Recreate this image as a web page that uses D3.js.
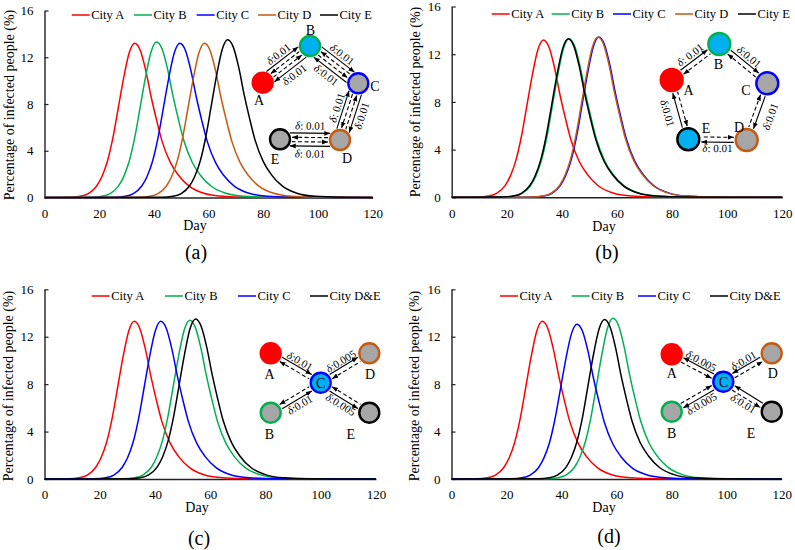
<!DOCTYPE html>
<html><head><meta charset="utf-8">
<script src="https://cdn.jsdelivr.net/npm/d3@7"></script>
<style>
body{margin:0;background:#fff}
text{font-family:"Liberation Serif","Times New Roman","DejaVu Serif",serif;fill:#000}
</style>
</head><body>
<svg id="c" width="795" height="550"></svg>
<script>
// ---------- DATA ----------
const xTicks = [0, 20, 40, 60, 80, 100, 120];
const yTicks = [0, 4, 8, 12, 16];
const legend5 = ["City A", "City B", "City C", "City D", "City E"];
const legend4 = ["City A", "City B", "City C", "City D&E"];
const tagLabels = ["(a)", "(b)", "(c)", "(d)"];

// panel (a)
const a_A_day = [0,9,13,16,19,21,23,25,27,29,31,33,35,37,39,41,43,46,49,53,58,65,75,120];
const a_A_pct = [0,.02,.1,.33,.96,1.8,3.1,5.1,7.7,10.3,12.4,13.2,12.6,10.9,8.6,6.6,4.8,3.0,1.9,.95,.38,.1,.02,0];
const a_B_day = [0,17,21,24,27,29,31,33,35,37,39,41,43,45,47,49,51,54,57,61,66,73,83,120];
const a_B_pct = [0,.02,.1,.33,.97,1.81,3.12,5.14,7.76,10.38,12.49,13.3,12.7,10.98,8.67,6.65,4.84,3.02,1.91,.96,.38,.1,.02,0];
const a_C_day = [0,25.5,29.5,32.5,35.5,37.5,39.5,41.5,43.5,45.5,47.5,49.5,51.5,53.5,55.5,57.5,59.5,62.5,65.5,69.5,74.5,81.5,91.5,120];
const a_C_pct = [0,.02,.1,.33,.96,1.8,3.1,5.1,7.7,10.3,12.4,13.2,12.6,10.9,8.6,6.6,4.8,3.0,1.9,.95,.38,.1,.02,0];
const a_D_day = [0,34.5,38.5,41.5,44.5,46.5,48.5,50.5,52.5,54.5,56.5,58.5,60.5,62.5,64.5,66.5,68.5,71.5,74.5,78.5,83.5,90.5,100.5,120];
const a_D_pct = [0,.02,.1,.33,.96,1.8,3.1,5.1,7.7,10.3,12.4,13.2,12.6,10.9,8.6,6.6,4.8,3.0,1.9,.95,.38,.1,.02,0];
const a_E_day = [0,43,47,50,53,55,57,59,61,63,65,67,69,71,73,75,77,80,83,87,92,99,109,120];
const a_E_pct = [0,.02,.1,.34,.98,1.84,3.17,5.22,7.88,10.54,12.69,13.5,12.89,11.15,8.8,6.75,4.91,3.07,1.94,.97,.39,.1,.02,0];

// panel (b)
const b_A_day = [0,9.3,13.3,16.3,19.3,21.3,23.3,25.3,27.3,29.3,31.3,33.3,35.3,37.3,39.3,41.3,43.3,46.3,49.3,53.3,58.3,65.3,75.3,120];
const b_A_pct = [0,.02,.1,.33,.96,1.8,3.1,5.1,7.7,10.3,12.4,13.2,12.6,10.9,8.6,6.6,4.8,3.0,1.9,.95,.38,.1,.02,0];
const b_B_day = [0,18.6,22.6,25.6,28.6,30.6,32.6,34.6,36.6,38.6,40.6,42.6,44.6,46.6,48.6,50.6,52.6,55.6,58.6,62.6,67.6,74.6,84.6,120];
const b_B_pct = [0,.02,.1,.33,.97,1.81,3.12,5.14,7.76,10.38,12.49,13.3,12.7,10.98,8.67,6.65,4.84,3.02,1.91,.96,.38,.1,.02,0];
const b_C_day = [0,29.4,33.4,36.4,39.4,41.4,43.4,45.4,47.4,49.4,51.4,53.4,55.4,57.4,59.4,61.4,63.4,66.4,69.4,73.4,78.4,85.4,95.4,120];
const b_C_pct = [0,.02,.1,.34,.98,1.83,3.16,5.2,7.85,10.5,12.63,13.45,12.84,11.1,8.76,6.72,4.89,3.06,1.94,.97,.39,.1,.02,0];
const b_D_day = [0,29.1,33.1,36.1,39.1,41.1,43.1,45.1,47.1,49.1,51.1,53.1,55.1,57.1,59.1,61.1,63.1,66.1,69.1,73.1,78.1,85.1,95.1,120];
const b_D_pct = [0,.02,.1,.34,.98,1.83,3.16,5.2,7.85,10.5,12.63,13.45,12.84,11.1,8.76,6.72,4.89,3.06,1.94,.97,.39,.1,.02,0];
const b_E_day = [0,18.3,22.3,25.3,28.3,30.3,32.3,34.3,36.3,38.3,40.3,42.3,44.3,46.3,48.3,50.3,52.3,55.3,58.3,62.3,67.3,74.3,84.3,120];
const b_E_pct = [0,.02,.1,.33,.97,1.81,3.12,5.14,7.76,10.38,12.49,13.3,12.7,10.98,8.67,6.65,4.84,3.02,1.91,.96,.38,.1,.02,0];

// panel (c)
const c_A_day = [0,8.5,12.5,15.5,18.5,20.5,22.5,24.5,26.5,28.5,30.5,32.5,34.5,36.5,38.5,40.5,42.5,45.5,48.5,52.5,57.5,64.5,74.5,120];
const c_A_pct = [0,.02,.1,.33,.97,1.81,3.12,5.14,7.76,10.38,12.49,13.3,12.7,10.98,8.67,6.65,4.84,3.02,1.91,.96,.38,.1,.02,0];
const c_B_day = [0,28.6,32.6,35.6,38.6,40.6,42.6,44.6,46.6,48.6,50.6,52.6,54.6,56.6,58.6,60.6,62.6,65.6,68.6,72.6,77.6,84.6,94.6,120];
const c_B_pct = [0,.02,.1,.33,.97,1.83,3.15,5.18,7.82,10.45,12.59,13.4,12.79,11.06,8.73,6.7,4.87,3.05,1.93,.96,.39,.1,.02,0];
const c_C_day = [0,18.1,22.1,25.1,28.1,30.1,32.1,34.1,36.1,38.1,40.1,42.1,44.1,46.1,48.1,50.1,52.1,55.1,58.1,62.1,67.1,74.1,84.1,120];
const c_C_pct = [0,.02,.1,.33,.97,1.81,3.12,5.14,7.76,10.38,12.49,13.3,12.7,10.98,8.67,6.65,4.84,3.02,1.91,.96,.38,.1,.02,0];
const c_DE_day = [0,30.7,34.7,37.7,40.7,42.7,44.7,46.7,48.7,50.7,52.7,54.7,56.7,58.7,60.7,62.7,64.7,67.7,70.7,74.7,79.7,86.7,96.7,120];
const c_DE_pct = [0,.02,.1,.34,.98,1.84,3.17,5.22,7.88,10.54,12.69,13.5,12.89,11.15,8.8,6.75,4.91,3.07,1.94,.97,.39,.1,.02,0];

// panel (d)
const d_A_day = [0,9,13,16,19,21,23,25,27,29,31,33,35,37,39,41,43,46,49,53,58,65,75,120];
const d_A_pct = [0,.02,.1,.33,.97,1.81,3.12,5.14,7.76,10.38,12.49,13.3,12.7,10.98,8.67,6.65,4.84,3.02,1.91,.96,.38,.1,.02,0];
const d_B_day = [0,34.7,38.7,41.7,44.7,46.7,48.7,50.7,52.7,54.7,56.7,58.7,60.7,62.7,64.7,66.7,68.7,71.7,74.7,78.7,83.7,90.7,100.7,120];
const d_B_pct = [0,.02,.1,.34,.99,1.85,3.18,5.24,7.9,10.57,12.73,13.55,12.94,11.19,8.83,6.78,4.93,3.08,1.95,.98,.39,.1,.02,0];
const d_C_day = [0,21.6,25.6,28.6,31.6,33.6,35.6,37.6,39.6,41.6,43.6,45.6,47.6,49.6,51.6,53.6,55.6,58.6,61.6,65.6,70.6,77.6,87.6,120];
const d_C_pct = [0,.02,.1,.33,.95,1.78,3.06,5.04,7.61,10.18,12.26,13.05,12.46,10.78,8.5,6.53,4.75,2.97,1.88,.94,.38,.1,.02,0];
const d_DE_day = [0,31.6,35.6,38.6,41.6,43.6,45.6,47.6,49.6,51.6,53.6,55.6,57.6,59.6,61.6,63.6,65.6,68.6,71.6,75.6,80.6,87.6,97.6,120];
const d_DE_pct = [0,.02,.1,.34,.98,1.83,3.16,5.2,7.85,10.5,12.63,13.45,12.84,11.1,8.76,6.72,4.89,3.06,1.94,.97,.39,.1,.02,0];

// ---------- STYLE / LAYOUT ----------
const RED="#ff0000", GREEN="#00b050", BLUE="#0000ff", ORANGE="#c55a11", BLACK="#000000";
const LBLUE="#00b0f0", GRAY="#a6a6a6";
const FONT="Liberation Serif, Times New Roman, DejaVu Serif, serif";
const col5=[RED,GREEN,BLUE,ORANGE,BLACK], col4=[RED,GREEN,BLUE,BLACK];
const zip=(a,b)=>a.map((d,i)=>[d,b[i]]);

const panels = [
 {xr:[44.5,372.7], yr:[197.5,10.5], series:[[a_A_day,a_A_pct],[a_B_day,a_B_pct],[a_C_day,a_C_pct],[a_D_day,a_D_pct],[a_E_day,a_E_pct]],
  names:legend5, colors:col5, legX:[71.7,134,196.7,258,320], legY:15, ytX:14, ytY:105, dayX:195, dayY:230, tagX:196, tagY:259},
 {xr:[451.7,782.3], yr:[197.3,6.5], series:[[b_A_day,b_A_pct],[b_B_day,b_B_pct],[b_C_day,b_C_pct],[b_D_day,b_D_pct],[b_E_day,b_E_pct]],
  names:legend5, colors:col5, legX:[491.7,551.7,613,675,738], legY:14, ytX:420, ytY:102, dayX:604, dayY:231, tagX:607, tagY:259},
 {xr:[44.5,376], yr:[479,289.3], series:[[c_A_day,c_A_pct],[c_B_day,c_B_pct],[c_C_day,c_C_pct],[c_DE_day,c_DE_pct]],
  names:legend4, colors:col4, legX:[91.7,165,238,310], legY:296, ytX:13, ytY:386, dayX:197, dayY:512, tagX:199, tagY:545},
 {xr:[451.5,781.7], yr:[479,289.3], series:[[d_A_day,d_A_pct],[d_B_day,d_B_pct],[d_C_day,d_C_pct],[d_DE_day,d_DE_pct]],
  names:legend4, colors:col4, legX:[500,571.7,638,710], legY:296, ytX:419, ytY:386, dayX:604, dayY:512, tagX:609, tagY:543}
];

const svg = d3.select("#c");
svg.append("defs").append("marker").attr("id","arr").attr("viewBox","0 -3 6 6")
  .attr("refX",6).attr("refY",0).attr("markerWidth",6).attr("markerHeight",6)
  .attr("markerUnits","userSpaceOnUse").attr("orient","auto-start-reverse")
  .append("path").attr("d","M0,-2.4L6,0L0,2.4Z").attr("fill","#000");

panels.forEach((P,pi)=>{
  const g = svg.append("g");
  const x = d3.scaleLinear().domain([0,120]).range(P.xr);
  const y = d3.scaleLinear().domain([0,16]).range(P.yr);
  const gx = g.append("g").attr("transform",`translate(0,${P.yr[0]})`)
    .call(d3.axisBottom(x).tickValues(xTicks).tickSize(0).tickPadding(11));
  const gy = g.append("g").attr("transform",`translate(${P.xr[0]},0)`)
    .call(d3.axisLeft(y).tickValues(yTicks).tickSizeInner(-4).tickSizeOuter(0).tickPadding(11));
  [gx,gy].forEach(a=>{
    a.attr("font-family",FONT);
    a.selectAll("path").attr("stroke","#222").attr("stroke-width",1.4);
    a.selectAll("line").attr("stroke","#222").attr("stroke-width",1.2);
    a.selectAll("text").attr("font-size",13).attr("font-family",FONT).attr("fill","#000");
  });
  const line = d3.line().x(d=>x(d[0])).y(d=>y(d[1])).curve(d3.curveMonotoneX);
  P.series.forEach((s,i)=>{
    g.append("path").attr("d",line(zip(s[0],s[1]))).attr("fill","none")
     .attr("stroke",P.colors[i]).attr("stroke-width",1.5);
  });
  // legend
  P.names.forEach((n,i)=>{
    const lx=P.legX[i];
    g.append("line").attr("x1",lx).attr("x2",lx+18).attr("y1",P.legY).attr("y2",P.legY)
      .attr("stroke",P.colors[i]).attr("stroke-width",1.5);
    g.append("text").attr("x",lx+19.5).attr("y",P.legY).attr("dy","0.35em").attr("font-size",12.5).text(n);
  });
  g.append("text").attr("transform",`translate(${P.ytX},${P.ytY}) rotate(-90)`)
    .attr("text-anchor","middle").attr("font-size",14).text("Percentage of infected people (%)");
  g.append("text").attr("x",P.dayX).attr("y",P.dayY).attr("text-anchor","middle").attr("font-size",14).text("Day");
  g.append("text").attr("x",P.tagX).attr("y",P.tagY).attr("text-anchor","middle").attr("font-size",20).text(tagLabels[pi]);
});

// ---------- NETWORK DIAGRAMS ----------
function net(nodes, edges, r){
  const g = svg.append("g");
  const N = {}; nodes.forEach(n=>N[n.id]=n);
  edges.forEach(e=>{
    const p=N[e.p], q=N[e.q];
    const dx=q.x-p.x, dy=q.y-p.y, L=Math.hypot(dx,dy), ux=dx/L, uy=dy/L, nx=-uy, ny=ux;
    e.lines.forEach(l=>{
      const s=Math.sqrt(Math.max(r*r-l.o*l.o,0))+2.2;
      const ln=g.append("line")
        .attr("x1",p.x+ux*s+nx*l.o).attr("y1",p.y+uy*s+ny*l.o)
        .attr("x2",q.x-ux*s+nx*l.o).attr("y2",q.y-uy*s+ny*l.o)
        .attr("stroke","#000").attr("stroke-width",1.1)
        .attr("stroke-dasharray",l.dash?"4,2.5":null);
      if(l.to==="q") ln.attr("marker-end","url(#arr)"); else ln.attr("marker-start","url(#arr)");
    });
    e.texts.forEach(t=>{
      let ang=Math.atan2(dy,dx)*180/Math.PI;
      if(ang>90) ang-=180; if(ang<=-90) ang+=180;
      const cx=(p.x+q.x)/2+nx*t.o, cy=(p.y+q.y)/2+ny*t.o;
      const tx=g.append("text").attr("transform",`translate(${cx},${cy}) rotate(${ang})`)
        .attr("text-anchor","middle").attr("dy","0.35em").attr("font-size",11);
      tx.append("tspan").attr("font-style","italic").text("δ");
      tx.append("tspan").text(t.s);
    });
  });
  nodes.forEach(n=>{
    g.append("circle").attr("cx",n.x).attr("cy",n.y).attr("r",r)
      .attr("fill",n.fill).attr("stroke",n.stroke).attr("stroke-width",2.4);
    g.append("text").attr("x",n.lx).attr("y",n.ly).attr("text-anchor","middle").attr("font-size",14).text(n.id);
  });
}

// (a) chain A-B-C-D-E
net([
 {id:"A",x:262.7,y:82.7,fill:RED,stroke:RED,lx:259,ly:105},
 {id:"B",x:310,y:46,fill:LBLUE,stroke:GREEN,lx:310.5,ly:35},
 {id:"C",x:358.3,y:83.3,fill:GRAY,stroke:BLUE,lx:375,ly:91},
 {id:"D",x:340,y:140,fill:GRAY,stroke:ORANGE,lx:347,ly:162.5},
 {id:"E",x:280,y:139.3,fill:GRAY,stroke:BLACK,lx:275,ly:164}
],[
 {p:"A",q:"B",lines:[{o:-6.5,to:"q"},{o:-2.2,dash:1,to:"p"},{o:2.2,dash:1,to:"q"},{o:6.5,to:"p"}],texts:[{o:-13,s:":0.01"},{o:13,s:":0.01"}]},
 {p:"B",q:"C",lines:[{o:-6.5,to:"q"},{o:-2.2,dash:1,to:"p"},{o:2.2,dash:1,to:"q"},{o:6.5,to:"p"}],texts:[{o:-13,s:":0.01"},{o:13,s:":0.01"}]},
 {p:"C",q:"D",lines:[{o:6.5,to:"p"},{o:2.2,dash:1,to:"q"},{o:-2.2,dash:1,to:"p"},{o:-6.5,to:"q"}],texts:[{o:-13,s:":0.01"},{o:13,s:": 0.01"}]},
 {p:"D",q:"E",lines:[{o:6.5,to:"p"},{o:2.2,dash:1,to:"q"},{o:-2.2,dash:1,to:"p"},{o:-6.5,to:"q"}],texts:[{o:14,s:": 0.01"},{o:-14,s:": 0.01"}]}
],10);

// (b) ring A-B-C-D-E-A
net([
 {id:"A",x:671.7,y:80,fill:RED,stroke:RED,lx:688.5,ly:94.5},
 {id:"B",x:719.3,y:44,fill:LBLUE,stroke:GREEN,lx:718.5,ly:68.5},
 {id:"C",x:767.3,y:83.3,fill:GRAY,stroke:BLUE,lx:746,ly:94.5},
 {id:"D",x:746.7,y:140,fill:GRAY,stroke:ORANGE,lx:739,ly:131.5},
 {id:"E",x:688.3,y:139.3,fill:LBLUE,stroke:BLACK,lx:706,ly:132.5}
],[
 {p:"A",q:"B",lines:[{o:-2.5,to:"q"},{o:2.5,dash:1,to:"p"}],texts:[{o:-9,s:": 0.01"}]},
 {p:"B",q:"C",lines:[{o:-2.5,to:"q"},{o:2.5,dash:1,to:"p"}],texts:[{o:-9,s:":0.01"}]},
 {p:"C",q:"D",lines:[{o:-2.5,to:"q"},{o:2.5,dash:1,to:"p"}],texts:[{o:-14,s:":0.01"}]},
 {p:"D",q:"E",lines:[{o:-2.5,to:"q"},{o:2.5,dash:1,to:"p"}],texts:[{o:-8.5,s:": 0.01"}]},
 {p:"E",q:"A",lines:[{o:-2.5,to:"q"},{o:2.5,dash:1,to:"p"}],texts:[{o:-13,s:":0.01"}]}
],11);

// (c) star centered at C
net([
 {id:"A",x:270.7,y:353.3,fill:RED,stroke:RED,lx:269.5,ly:378.5},
 {id:"D",x:369.3,y:353.3,fill:GRAY,stroke:ORANGE,lx:370,ly:378.5},
 {id:"C",x:320.7,y:382.7,fill:LBLUE,stroke:BLUE,lx:320.7,ly:387.5},
 {id:"B",x:270.7,y:412.7,fill:GRAY,stroke:GREEN,lx:269.5,ly:438.5},
 {id:"E",x:369.3,y:412.7,fill:GRAY,stroke:BLACK,lx:350.7,ly:438.5}
],[
 {p:"A",q:"C",lines:[{o:-2.5,to:"q"},{o:2.5,dash:1,to:"p"}],texts:[{o:-8,s:":0.01"}]},
 {p:"C",q:"D",lines:[{o:-2.5,to:"q"},{o:2.5,dash:1,to:"p"}],texts:[{o:-8,s:":0.005"}]},
 {p:"B",q:"C",lines:[{o:-2.5,dash:1,to:"p"},{o:2.5,to:"q"}],texts:[{o:8,s:":0.01"}]},
 {p:"C",q:"E",lines:[{o:-2.5,dash:1,to:"p"},{o:2.5,to:"q"}],texts:[{o:8,s:":0.005"}]}
],10);

// (d) star centered at C
net([
 {id:"A",x:671.7,y:354.3,fill:RED,stroke:RED,lx:671.7,ly:378},
 {id:"D",x:771.7,y:353.3,fill:GRAY,stroke:ORANGE,lx:772.7,ly:378},
 {id:"C",x:723.3,y:381.7,fill:LBLUE,stroke:BLUE,lx:723.3,ly:386.5},
 {id:"B",x:671.7,y:411.7,fill:GRAY,stroke:GREEN,lx:671.7,ly:437.5},
 {id:"E",x:771.7,y:411.7,fill:GRAY,stroke:BLACK,lx:751,ly:437.5}
],[
 {p:"A",q:"C",lines:[{o:-2.5,to:"p"},{o:2.5,dash:1,to:"q"}],texts:[{o:-8,s:":0.005"}]},
 {p:"C",q:"D",lines:[{o:-2.5,to:"p"},{o:2.5,dash:1,to:"q"}],texts:[{o:-8,s:":0.01"}]},
 {p:"B",q:"C",lines:[{o:-2.5,dash:1,to:"q"},{o:2.5,to:"p"}],texts:[{o:8,s:":0.005"}]},
 {p:"C",q:"E",lines:[{o:-2.5,to:"p"},{o:2.5,dash:1,to:"q"}],texts:[{o:8,s:":0.01"}]}
],10);
</script>
</body></html>
